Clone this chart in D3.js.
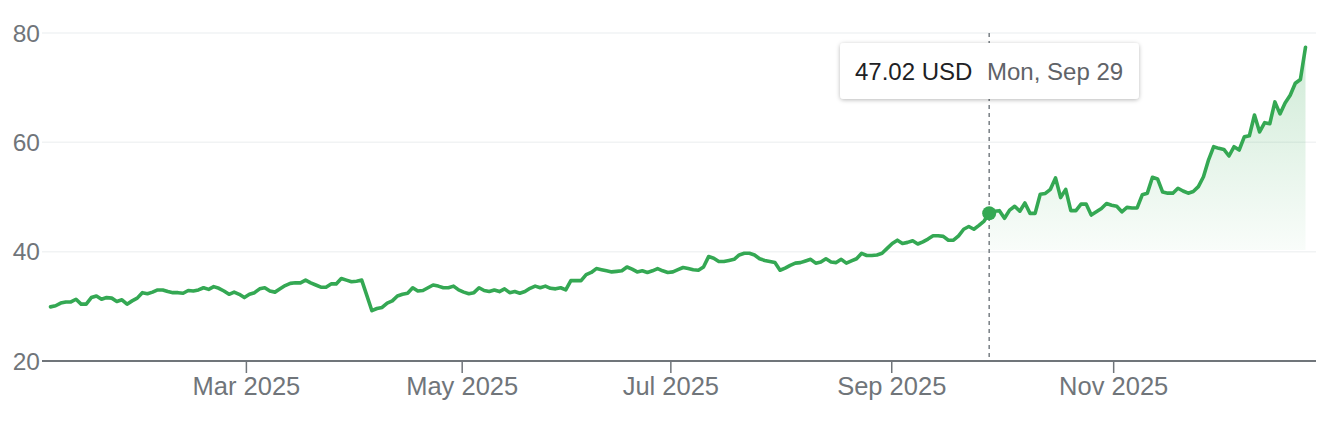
<!DOCTYPE html>
<html><head><meta charset="utf-8">
<script src="https://cdn.jsdelivr.net/npm/d3@7"></script>
<style>
html,body{margin:0;padding:0;background:#fff;}
svg{display:block;font-family:"Liberation Sans",Arial,Helvetica,sans-serif;}
</style></head>
<body><svg id="c" width="1328" height="422"></svg>
<script>
// Daily closes (trading days, Jan 2 2025 -> Dec 26 2025), USD
const prices = [
29.9,30.1,30.6,30.8,30.8,31.3,30.4,30.4,31.6,31.9,
31.3,31.6,31.5,30.9,31.2,30.4,31.0,31.5,32.5,32.3,
32.6,33.0,33.0,32.7,32.5,32.5,32.4,32.9,32.8,33.0,
33.4,33.1,33.6,33.3,32.8,32.2,32.6,32.2,31.6,32.2,
32.5,33.2,33.4,32.8,32.6,33.2,33.8,34.2,34.3,34.3,
34.8,34.3,33.9,33.5,33.5,34.1,34.1,35.1,34.8,34.5,
34.6,34.8,32.0,29.2,29.6,29.8,30.6,31.0,31.9,32.2,
32.4,33.4,32.8,32.9,33.4,33.9,33.7,33.4,33.4,33.7,
33.0,32.6,32.3,32.5,33.4,32.9,32.7,33.0,32.7,33.2,
32.5,32.7,32.4,32.7,33.3,33.7,33.4,33.7,33.3,33.2,
33.4,33.0,34.7,34.7,34.7,35.8,36.2,36.9,36.7,36.5,
36.3,36.4,36.5,37.2,36.8,36.3,36.5,36.2,36.5,36.9,
36.5,36.2,36.3,36.7,37.1,36.9,36.7,36.6,37.2,39.1,
38.8,38.2,38.2,38.4,38.6,39.4,39.7,39.7,39.4,38.7,
38.4,38.2,38.0,36.6,37.0,37.5,37.9,38.0,38.3,38.6,
37.9,38.1,38.7,38.1,38.0,38.6,37.9,38.3,38.7,39.7,
39.3,39.3,39.4,39.7,40.6,41.5,42.1,41.5,41.7,42.0,
41.4,41.8,42.3,42.9,42.9,42.8,42.1,42.1,42.9,44.1,
44.6,44.1,44.8,45.6,47.02,47.4,47.5,46.1,47.6,48.3,
47.4,48.9,47.0,47.0,50.5,50.65,51.4,53.5,49.9,51.4,
47.5,47.5,48.7,48.7,46.7,47.3,47.9,48.8,48.5,48.3,
47.3,48.1,48.0,48.0,50.4,50.7,53.6,53.3,50.9,50.7,
50.7,51.6,51.1,50.7,51.0,51.9,53.7,56.8,59.2,58.9,
58.7,57.5,59.2,58.6,61.0,61.2,65.0,61.9,63.6,63.4,
67.4,65.2,67.2,68.6,70.8,71.5,77.4
];
// Month ticks placed on the trading-day index axis
const monthTickIndex = [38.3, 80.6, 121.5, 164.8, 208.3];
const monthTickLabels = ["Mar 2025","May 2025","Jul 2025","Sep 2025","Nov 2025"];
const yTicks = [20, 40, 60, 80];
const hoverIndex = 184;
const hoverValue = "47.02 USD";
const hoverDate = "Mon, Sep 29";
const fillBaseValue = 40.3;

const svg = d3.select("#c");
const plotLeft = 42, plotRight = 1316;
const x = d3.scaleLinear().domain([0, prices.length - 1]).range([50.5, 1305.5]);
const y = d3.scaleLinear().domain([20, 80]).range([361, 33]);

const defs = svg.append("defs");
const grad = defs.append("linearGradient").attr("id","g").attr("gradientUnits","userSpaceOnUse")
  .attr("x1",0).attr("x2",0).attr("y1",y(78)).attr("y2",y(fillBaseValue));
grad.append("stop").attr("offset","0%").attr("stop-color","#34a853").attr("stop-opacity",0.24);
grad.append("stop").attr("offset","100%").attr("stop-color","#34a853").attr("stop-opacity",0.03);
const sh = defs.append("filter").attr("id","sh").attr("x","-20%").attr("y","-40%").attr("width","140%").attr("height","180%");
sh.append("feDropShadow").attr("dx",0).attr("dy",1).attr("stdDeviation",2).attr("flood-color","#000").attr("flood-opacity",0.28);

// grid
svg.append("g").selectAll("line").data(yTicks.slice(1)).join("line")
  .attr("x1",plotLeft).attr("x2",plotRight)
  .attr("y1",d=>y(d)).attr("y2",d=>y(d))
  .attr("stroke","#f1f3f4").attr("stroke-width",1.5);

// y labels
svg.append("g").selectAll("text").data(yTicks).join("text")
  .attr("x",40).attr("y",d=>y(d)).attr("dy","0.36em")
  .attr("text-anchor","end").attr("font-size",24.5).attr("fill","#70757a")
  .text(d=>d);

// fill after hover
const tail = prices.map((v,i)=>[i,v]).filter(d=>d[0]>=hoverIndex);
svg.append("path").datum(tail)
  .attr("d", d3.area().x(d=>x(d[0])).y0(y(fillBaseValue)).y1(d=>y(d[1])))
  .attr("fill","url(#g)");

// x axis
const xAxis = d3.axisBottom(x).tickValues(monthTickIndex)
  .tickFormat((d,i)=>monthTickLabels[i]).tickSize(12).tickPadding(4);
const ax = svg.append("g").attr("transform",`translate(0,${y(20)})`).call(xAxis);
ax.select(".domain").remove();
ax.selectAll(".tick line").attr("stroke","#70757a").attr("stroke-width",1.5);
ax.selectAll(".tick text").attr("font-size",25.5).attr("fill","#70757a").attr("font-family","Liberation Sans, Arial, sans-serif");
svg.append("line").attr("x1",plotLeft).attr("x2",plotRight).attr("y1",y(20)).attr("y2",y(20))
  .attr("stroke","#70757a").attr("stroke-width",2);

// hover dashed line
svg.append("line").attr("x1",x(hoverIndex)).attr("x2",x(hoverIndex))
  .attr("y1",y(80)).attr("y2",y(20)-2)
  .attr("stroke","#80868b").attr("stroke-width",1.6).attr("stroke-dasharray","4,4");

// price line
svg.append("path").datum(prices)
  .attr("d", d3.line().x((d,i)=>x(i)).y(d=>y(d)))
  .attr("fill","none").attr("stroke","#34a853").attr("stroke-width",3.6)
  .attr("stroke-linejoin","round").attr("stroke-linecap","round");

// hover dot
svg.append("circle").attr("cx",x(hoverIndex)).attr("cy",y(prices[hoverIndex]))
  .attr("r",7).attr("fill","#34a853");

// tooltip
const tip = svg.append("g");
tip.append("rect").attr("x",840).attr("y",43).attr("width",299).attr("height",56).attr("rx",4)
  .attr("fill","#fff").attr("filter","url(#sh)");
tip.append("text").attr("x",855).attr("y",80).attr("font-size",24).attr("fill","#202124").text(hoverValue);
tip.append("text").attr("x",987).attr("y",80).attr("font-size",24).attr("fill","#5f6368").text(hoverDate);
</script></body></html>
